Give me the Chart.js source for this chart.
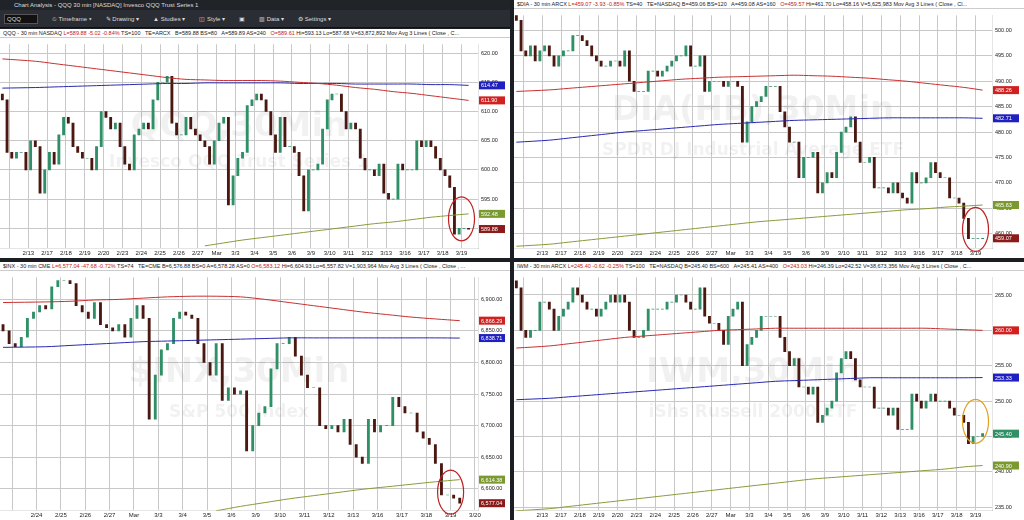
<!DOCTYPE html>
<html><head><meta charset="utf-8">
<script src="https://cdn.jsdelivr.net/npm/chart.js@4.4.0/dist/chart.umd.min.js"></script>
<style>
body{margin:0;background:#1b1e23;width:1024px;height:520px;overflow:hidden;font-family:"Liberation Sans",Arial,sans-serif}
.p{position:absolute;background:#fff;overflow:hidden}
.info{position:absolute;left:0;right:0;top:0;height:8px;background:#fff;font-size:5.5px;line-height:8px;color:#222;white-space:nowrap;padding-left:3px;border-bottom:1px solid #ccc}
.info .r{color:#c02020}
canvas{position:absolute;left:0}
#title{position:absolute;left:0;top:0;width:510px;height:10px;background:#202328;color:#ddd;font-size:6px;line-height:10px;padding-left:14px;box-sizing:border-box}
#tool{position:absolute;left:0;top:10px;width:510px;height:18px;background:#2a2d33;color:#ddd;font-size:6px;line-height:18px;padding-left:4px;box-sizing:border-box;border-bottom:1px solid #111}
#tool span{margin-right:14px}
</style></head><body>
<div id="title">Chart Analysis - QQQ 30 min [NASDAQ] Invesco QQQ Trust Series 1</div>
<div id="tool"><span style="background:#111;padding:1px 16px 1px 2px;border:1px solid #555">QQQ</span><span>⏲ Timeframe ▾</span><span>✎ Drawing ▾</span><span>▲ Studies ▾</span><span>◫ Style ▾</span><span>▣</span><span>▥ Data ▾</span><span>⚙ Settings ▾</span></div>
<div class="p" id="p1" style="left:0;top:29px;width:510px;height:229px"><div class="info">QQQ - 30 min NASDAQ <span class="r">L=589.88 -5.02 -0.84%</span> TS=100 &nbsp; TE=ARCX &nbsp; B=589.88 BS=80 &nbsp; A=589.89 AS=240 &nbsp; <span class="r">O=589.61</span> Hi=593.13 Lo=587.68 V=63,872,892 Mov Avg 3 Lines ( Close , C...</div><canvas id="c1"></canvas></div>
<div class="p" id="p2" style="left:514px;top:0;width:510px;height:258px"><div class="info">$DIA - 30 min ARCX <span class="r">L=459.07 -3.93 -0.85%</span> TS=40 &nbsp; TE=NASDAQ B=459.06 BS=120 &nbsp; A=459.08 AS=160 &nbsp; <span class="r">O=459.57</span> Hi=461.70 Lo=458.16 V=5,625,983 Mov Avg 3 Lines ( Close , Cl...</div><canvas id="c2"></canvas></div>
<div class="p" id="p3" style="left:0;top:262px;width:510px;height:258px"><div class="info">$INX - 30 min CME <span class="r">L=6,577.04 -47.68 -0.72%</span> TS=74 &nbsp; TE=CME B=6,576.88 BS=0 A=6,578.28 AS=0 <span class="r">O=6,583.12</span> Hi=6,604.93 Lo=6,557.82 V=1,903,964 Mov Avg 3 Lines ( Close , Close , ...</div><canvas id="c3"></canvas></div>
<div class="p" id="p4" style="left:514px;top:262px;width:510px;height:258px"><div class="info">IWM - 30 min ARCX <span class="r">L=245.40 -0.62 -0.25%</span> TS=100 &nbsp; TE=NASDAQ B=245.40 BS=600 &nbsp; A=245.41 AS=400 &nbsp; <span class="r">O=243.03</span> Hi=246.39 Lo=242.52 V=38,673,356 Mov Avg 3 Lines ( Close , C...</div><canvas id="c4"></canvas></div>
<script>
// ---- DATA ----
const qqqDays=["","2/13","2/17","2/18","2/19","2/20","2/23","2/24","2/25","2/26","2/27","Mar","3/3","3/4","3/5","3/6","3/9","3/10","3/11","3/12","3/13","3/16","3/17","3/18","3/19"];
const qqqClose=[612,603,602,603, 603,600,605,604, 596,600,603,601, 606,609,608,604, 603,602,602,600, 604,610,609,607, 608,604,601,600, 606,607,608,607, 612,615,615,616, 608,606,606,609, 607,606,605,604, 601,605,608,609, 594,599,602,603, 611,612,613,612, 610,606,603,609, 604,604,603,599, 593,600,600,601, 607,612,613,613, 610,607,608,607, 602,600,600,599, 601,596,595,595, 601,600,600,600, 605,604,605,604, 602,600,599,597, 589,590,590,589.88];
const qqqRed=[619,618.6,618.2,617.8,617.4,617,616.6,616.2,615.8,615.5,615.4,615.3,615.3,615.3,615.2,615,614.8,614.5,614.1,613.8,613.4,613.1,612.7,612.3,611.9];
const qqqBlue=[614.0,614.1,614.2,614.3,614.4,614.5,614.6,614.7,614.8,614.8,614.9,614.9,614.9,614.9,614.9,614.8,614.8,614.8,614.7,614.7,614.7,614.7,614.6,614.6,614.47];
const qqqGreen=[null,null,null,null,null,null,null,null,null,null,587.0,587.5,588,588.4,588.8,589.2,589.6,590,590.4,590.8,591.1,591.5,591.9,592.2,592.48];

const diaDays=["","2/13","2/17","2/18","2/19","2/20","2/23","2/24","2/25","2/26","2/27","Mar","3/3","3/4","3/5","3/6","3/9","3/10","3/11","3/12","3/13","3/16","3/17","3/18","3/19"];
const diaClose=[502,496,495,497, 494,496,497,495, 493,495,496,496, 499,499,498,497, 495,494,493,493, 494,494,493,496, 490,488,488,488, 492,492,491,492, 493,494,495,495, 497,493,493,495, 488,490,490,490, 489,490,490,489, 478,482,485,486, 487,489,489,489, 484,481,478,478, 471,475,475,476, 468,470,472,471, 476,480,481,483, 478,474,474,475, 469,469,469,468, 470,468,467,466, 472,470,470,471, 474,472,471,471, 467,467,466,463, 459,459,459,459.07];
const diaRed=[488,488.3,488.6,488.9,489.2,489.5,489.8,490.1,490.4,490.6,490.8,490.9,491,491.1,491.2,491.1,491,490.8,490.6,490.3,490,489.6,489.2,488.8,488.26];
const diaBlue=[478,478.4,478.8,479.2,479.6,480,480.3,480.6,480.9,481.2,481.5,481.7,481.9,482.1,482.3,482.4,482.5,482.6,482.7,482.8,482.8,482.8,482.8,482.8,482.71];
const diaGreen=[457.5,457.9,458.3,458.7,459.1,459.5,459.9,460.3,460.7,461.1,461.5,461.9,462.3,462.6,462.9,463.2,463.5,463.8,464.1,464.4,464.7,464.9,465.2,465.4,465.63];

const inxDays=["","2/24","2/25","2/26","2/27","Mar","3/3","3/4","3/5","3/6","3/9","3/10","3/11","3/12","3/13","3/16","3/17","3/18","3/19","3/20"];
const inxClose=[6850,6830,6825,6840, 6870,6880,6890,6885, 6920,6930,6930,6925, 6890,6880,6870,6895, 6860,6855,6850,6860, 6840,6870,6890,6870, 6710,6780,6820,6830, 6870,6880,6875,6870, 6830,6800,6780,6830, 6740,6760,6750,6755, 6660,6700,6720,6730, 6790,6830,6830,6840, 6810,6780,6760,6760, 6700,6695,6700,6690, 6710,6670,6650,6640, 6710,6690,6700,6700, 6745,6730,6720,6720, 6690,6680,6670,6640, 6590,6590,6585,6577.04];
const inxRed=[6895,6896,6897,6899,6900,6902,6904,6905,6905,6904,6900,6895,6890,6885,6880,6876,6872,6869,6866.29];
const inxBlue=[6824,6825,6827,6829,6831,6833,6834,6835,6836,6837,6838,6839,6839,6839,6839,6839,6839,6839,6838.71];
const inxGreen=[null,null,null,null,null,null,null,null,6565,6572,6578,6584,6589,6594,6599,6603,6607,6611,6614.38];

const iwmDays=["","2/13","2/17","2/18","2/19","2/20","2/23","2/24","2/25","2/26","2/27","Mar","3/3","3/4","3/5","3/6","3/9","3/10","3/11","3/12","3/13","3/16","3/17","3/18","3/19"];
const iwmClose=[266,260,259,260, 260,264,264,263, 260,262,263,264, 266,265,264,263, 263,262,263,264, 265,264,265,264, 260,259,259,260, 263,263,263,263, 264,264,265,265, 264,263,263,266, 262,261,261,260, 258,262,263,264, 255,258,259,260, 262,262,262,262, 259,257,255,256, 252,252,251,252, 247,248,249,250, 254,256,257,256, 253,252,252,252, 249,249,249,248, 249,246,246,246, 251,250,249,250, 251,250,250,250, 249,248,248,247, 244,245,245,245.4];
const iwmRed=[257.5,257.8,258.1,258.4,258.7,259,259.2,259.4,259.6,259.8,260,260.1,260.2,260.3,260.3,260.3,260.3,260.3,260.3,260.3,260.3,260.3,260.2,260.1,260.0];
const iwmBlue=[250.2,250.4,250.6,250.8,251,251.2,251.4,251.6,251.8,252,252.2,252.4,252.6,252.8,252.9,253,253.1,253.2,253.3,253.3,253.3,253.3,253.3,253.3,253.33];
const iwmGreen=[234.5,234.8,235.1,235.4,235.7,236,236.3,236.6,236.9,237.2,237.5,237.8,238.1,238.4,238.7,239,239.2,239.4,239.6,239.8,240,240.2,240.4,240.7,240.9];

// ---- RENDER ----
function fmt(v){return v.toLocaleString('en-US',{minimumFractionDigits:2,maximumFractionDigits:2});}
function panel(id,days,close,red,blue,green,ymin,ymax,step,wm1,wm2,lastCol,circleCol,xmaxExtra){
  const el=document.getElementById('p'+id);const cv=document.getElementById('c'+id);
  const W=el.clientWidth,H=el.clientHeight-9;cv.width=W;cv.height=H;cv.style.top='9px';
  const per=4;const n=close.length;
  const candles=close.map((c,i)=>({x:i,y:[i===0?c+step/5:close[i-1],c]}));
  const upc=candles.map(d=>d.y[1]>=d.y[0]?'#2f8f66':'#4a1810');
  const ma=(arr)=>arr.map((v,i)=>({x:i*per+(i===0?0:3),y:v}));
  const boxPlug={id:'bx'+id,
    beforeDatasetsDraw(ch){const {ctx,chartArea:a}=ch;ctx.save();ctx.fillStyle='rgba(0,0,0,0.055)';ctx.textAlign='center';
      ctx.font='bold 34px "DejaVu Sans"';ctx.fillText(wm1,(a.left+a.right)/2,a.top+a.height*0.45);
      ctx.font='bold 17px "DejaVu Sans"';ctx.fillText(wm2,(a.left+a.right)/2,a.top+a.height*0.6);ctx.restore();},
    afterDraw(ch){const {ctx,chartArea:a,scales:{y,x}}=ch;ctx.save();ctx.font='5.5px "Liberation Sans"';
      const items=[[red[red.length-1],'#d02020'],[blue[blue.length-1],'#2020c0'],[green[green.length-1],'#7a9a30'],[close[n-1],lastCol]];
      items.forEach(([v,c])=>{const py=y.getPixelForValue(v);ctx.fillStyle=c;ctx.fillRect(a.right+1,py-4,26,8);ctx.fillStyle='#fff';ctx.textAlign='left';ctx.fillText(fmt(v),a.right+3,py+2);});
      const cx=x.getPixelForValue(n-2.5),cy=y.getPixelForValue(close[n-1]+step*0.35);
      ctx.strokeStyle=circleCol;ctx.lineWidth=1.2;ctx.beginPath();ctx.ellipse(cx,cy,13,22,0,0,Math.PI*2);ctx.stroke();ctx.restore();}};
  new Chart(cv,{data:{datasets:[
    {type:'line',data:ma(red),borderColor:'#c83030',borderWidth:1,pointRadius:0,tension:0.3},
    {type:'line',data:ma(blue),borderColor:'#2828b0',borderWidth:1,pointRadius:0,tension:0.3},
    {type:'line',data:ma(green),borderColor:'#8a9a3a',borderWidth:1,pointRadius:0,tension:0.3},
    {type:'bar',data:candles,backgroundColor:upc,borderWidth:0,barThickness:2.2,grouped:false}
  ]},options:{responsive:false,animation:false,maintainAspectRatio:false,
    layout:{padding:{left:0,right:2,top:2,bottom:0}},
    plugins:{legend:{display:false},tooltip:{enabled:false}},
    scales:{x:{type:'linear',min:-0.5,max:n+xmaxExtra,offset:false,
      afterBuildTicks(s){s.ticks=days.map((d,i)=>({value:i*per+1.5}));},
      ticks:{autoSkip:false,maxRotation:0,font:{size:6},color:'#222',padding:1,callback:(v)=>days[Math.round((v-1.5)/per)]},
      grid:{color:'#c8c8c8',offset:false,drawTicks:false}},
     y:{position:'right',min:ymin,max:ymax,afterBuildTicks(s){const t=[];for(let v=Math.ceil(ymin/step)*step;v<=ymax;v+=step)t.push({value:v});s.ticks=t;},
      ticks:{font:{size:5.5},color:'#222',callback:v=>fmt(v),padding:3},grid:{color:'#c8c8c8',drawTicks:false},afterFit(s){s.width=30;}}}},
    plugins:[boxPlug]});
}
panel(1,qqqDays,qqqClose,qqqRed,qqqBlue,qqqGreen,586.5,621.5,5,'QQQ,30Min','Invesco QQQ Trust Series 1','#8b1a1a','#c02020',1);
panel(2,diaDays,diaClose,diaRed,diaBlue,diaGreen,457,503,5,'DIA(HB),30Min','SPDR DJ Industrial Average ETF','#8b1a1a','#c02020',1);
panel(3,inxDays,inxClose,inxRed,inxBlue,inxGreen,6565,6935,50,'$INX,30Min','S&P 500 Index','#8b1a1a','#c02020',2);
panel(4,iwmDays,iwmClose,iwmRed,iwmBlue,iwmGreen,234.5,267.5,5,'IWM,30Min','iShs Russell 2000 ETF','#2f8f66','#e0a020',1);
</script></body></html>
